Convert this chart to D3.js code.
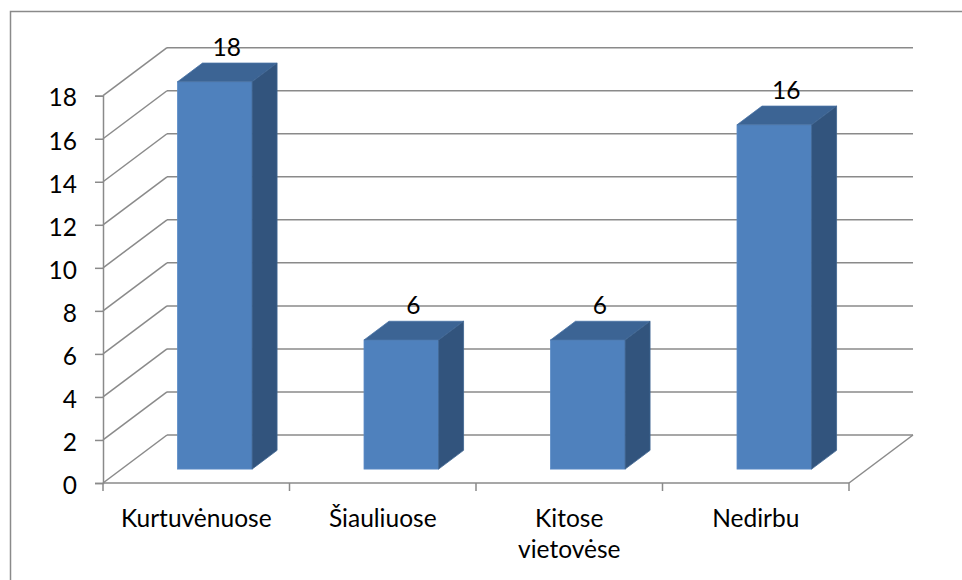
<!DOCTYPE html>
<meta charset="utf-8">
<head>
<script src="https://d3js.org/d3.v7.min.js"></script>
<style>
  body { margin: 0; background: #fff; }
  svg { display: block; font-family: "Lato", "Liberation Sans", sans-serif; }
</style>
</head>
<body>
<svg></svg>
<script>
// Data
var categories = ["Kurtuvėnuose", "Šiauliuose", "Kitose vietovėse", "Nedirbu"];
var categoryLines = [["Kurtuvėnuose"], ["Šiauliuose"], ["Kitose", "vietovėse"], ["Nedirbu"]];
var values = [18, 6, 6, 16];
var yTicks = [0, 2, 4, 6, 8, 10, 12, 14, 16, 18];

var width = 962, height = 580;
var fontSize = 24.5;
var svg = d3.select("svg").attr("width", width).attr("height", height);

// 3D depth of the plot (back wall offset)
var depthX = 64, depthY = -48;
// bar sits between these depth fractions
var t0 = 0.29, t1 = 0.68;

var x = d3.scaleBand().domain(categories).range([103, 849]);
var y = d3.scaleLinear().domain([0, 18]).range([483, 95.7]);

var grid = "#8a8a8a";

// chart border
svg.append("rect")
  .attr("x", 10.5).attr("y", 11.5)
  .attr("width", 1000).attr("height", 600)
  .attr("fill", "none").attr("stroke", grid).attr("stroke-width", 1.5);

var x0 = x.range()[0], x1 = x.range()[1];

// back wall gridlines
svg.append("g").selectAll("line")
  .data(yTicks).enter().append("line")
  .attr("x1", x0 + depthX).attr("x2", x1 + depthX)
  .attr("y1", function(d) { return y(d) + depthY; })
  .attr("y2", function(d) { return y(d) + depthY; })
  .attr("stroke", grid).attr("stroke-width", 1.5);

// side wall diagonals
svg.append("g").selectAll("line")
  .data(yTicks).enter().append("line")
  .attr("x1", x0).attr("x2", x0 + depthX)
  .attr("y1", function(d) { return y(d); })
  .attr("y2", function(d) { return y(d) + depthY; })
  .attr("stroke", grid).attr("stroke-width", 1.5);

// floor front edge and right edge
svg.append("line")
  .attr("x1", x0).attr("x2", x1).attr("y1", y(0)).attr("y2", y(0))
  .attr("stroke", grid).attr("stroke-width", 1.5);
svg.append("line")
  .attr("x1", x1).attr("x2", x1 + depthX).attr("y1", y(0)).attr("y2", y(0) + depthY)
  .attr("stroke", grid).attr("stroke-width", 1.5);

// y axis
var yAxis = svg.append("g").attr("transform", "translate(" + x0 + ",0)")
  .call(d3.axisLeft(y).tickValues(yTicks).tickSize(8).tickPadding(18));
yAxis.select(".domain").attr("stroke", grid).attr("stroke-width", 1.5);
yAxis.selectAll(".tick line").attr("stroke", grid).attr("stroke-width", 1.5);
yAxis.selectAll(".tick text")
  .attr("font-size", fontSize).attr("fill", "#000")
  .attr("font-family", "Lato, sans-serif")
  .attr("dy", "0.42em");

// x axis ticks
var xTickPos = categories.map(function(c) { return x(c); }).concat([x1]);
svg.append("g").selectAll("line")
  .data(xTickPos).enter().append("line")
  .attr("x1", function(d) { return d; }).attr("x2", function(d) { return d; })
  .attr("y1", y(0)).attr("y2", y(0) + 8)
  .attr("stroke", grid).attr("stroke-width", 1.5);

// category labels
var catG = svg.append("g").selectAll("text")
  .data(categories).enter().append("text")
  .attr("text-anchor", "middle")
  .attr("font-size", fontSize)
  .attr("fill", "#000")
  .attr("transform", function(d) { return "translate(" + (x(d) + x.bandwidth() / 2) + ",527)"; });
catG.selectAll("tspan")
  .data(function(d, i) { return categoryLines[i]; })
  .enter().append("tspan")
  .attr("x", 0)
  .attr("y", function(d, i) { return i * 31; })
  .text(function(d) { return d; });

// bars
var barW = x.bandwidth() * 0.4;
var bdx = depthX * (t1 - t0), bdy = depthY * (t1 - t0);
var bars = svg.append("g").selectAll("g")
  .data(values).enter().append("g")
  .attr("transform", function(d, i) {
    var bx = x(categories[i]) + (x.bandwidth() - barW) / 2 + depthX * t0;
    return "translate(" + bx + "," + (depthY * t0) + ")";
  });

bars.append("rect")
  .attr("x", 0).attr("width", barW)
  .attr("y", function(d) { return y(d); })
  .attr("height", function(d) { return y(0) - y(d); })
  .attr("fill", "#4f81bd").attr("stroke", "#5b8bc6").attr("stroke-width", 0.8);

bars.append("path")
  .attr("d", function(d) {
    var t = y(d);
    return "M0," + t + "L" + barW + "," + t + "L" + (barW + bdx) + "," + (t + bdy) +
      "L" + bdx + "," + (t + bdy) + "Z";
  })
  .attr("fill", "#3c6494").attr("stroke", "#4a74a6").attr("stroke-width", 0.8);

bars.append("path")
  .attr("d", function(d) {
    var t = y(d), b = y(0);
    return "M" + barW + "," + t + "L" + (barW + bdx) + "," + (t + bdy) +
      "L" + (barW + bdx) + "," + (b + bdy) + "L" + barW + "," + b + "Z";
  })
  .attr("fill", "#32547d").attr("stroke", "#3f6590").attr("stroke-width", 0.8);

// value labels
bars.append("text")
  .attr("x", barW / 2 + 12)
  .attr("y", function(d) { return y(d) + bdy - 16; })
  .attr("dy", "0.35em")
  .attr("text-anchor", "middle")
  .attr("font-size", fontSize)
  .attr("fill", "#000")
  .text(function(d) { return d; });
</script>
</body>
